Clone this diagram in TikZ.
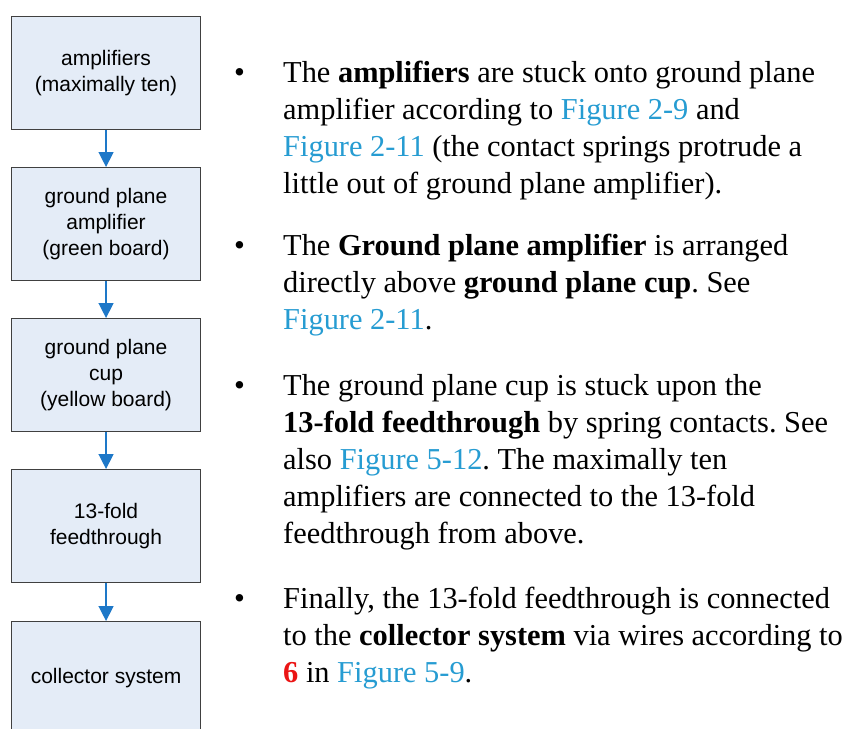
\documentclass[tikz,border=0pt]{standalone}
\usepackage{fontspec}
\setmainfont{Liberation Serif}
\newfontfamily\boxfont{Liberation Sans}
\usetikzlibrary{arrows.meta}
\definecolor{boxfill}{RGB}{228,236,247}
\definecolor{boxline}{RGB}{64,64,64}
\definecolor{flowblue}{RGB}{30,120,200}
\definecolor{linkblue}{RGB}{38,156,210}
\definecolor{numred}{RGB}{235,20,20}
\newcommand{\lnk}[1]{\textcolor{linkblue}{#1}}
\tikzset{
  stepbox/.style={draw=boxline, fill=boxfill, line width=1.1pt,
    minimum width=189pt, minimum height=113pt, inner sep=0pt,
    align=center, anchor=north west,
    font=\boxfont\fontsize{21pt}{26pt}\selectfont},
  flow/.style={draw=flowblue, line width=1.4pt,
    -{Triangle[length=15pt,width=15pt]}},
  bulletmark/.style={anchor=base west, inner sep=0pt,
    font=\fontsize{31pt}{37pt}\selectfont},
  para/.style={anchor=base west, inner sep=0pt,
    font=\fontsize{30.4pt}{37pt}\selectfont}
}
\newcommand{\paratext}[1]{\parbox[t]{600pt}{\raggedright\frenchspacing #1}}
\begin{document}
\begin{tikzpicture}[x=1pt,y=-1pt]
\clip (0,0) rectangle (847,729);
\fill[white] (0,0) rectangle (847,729);

% process chain on the left
\node[stepbox] (amp) at (11,16) {amplifiers\\(maximally ten)};
\node[stepbox] (gpa) at (11,167) {ground plane\\amplifier\\(green board)};
\node[stepbox] (gpc) at (11,318) {ground plane\\cup\\(yellow board)};
\node[stepbox] (ft) at (11,469) {13-fold\\feedthrough};
\node[stepbox] (col) at (11,621) {collector system};

\draw[flow] (amp.south) -- (gpa.north);
\draw[flow] (gpa.south) -- (gpc.north);
\draw[flow] (gpc.south) -- (ft.north);
\draw[flow] (ft.south) -- (col.north);

% description on the right
\node[bulletmark] (b1) at (234,82) {•};
\node[para] (p1) at (283,82) {\paratext{The \textbf{amplifiers} are stuck onto ground plane\\
amplifier according to \lnk{Figure 2-9} and\\
\lnk{Figure 2-11} (the contact springs protrude a\\
little out of ground plane amplifier).}};

\node[bulletmark] (b2) at (234,255) {•};
\node[para] (p2) at (283,255) {\paratext{The \textbf{Ground plane amplifier} is arranged\\
directly above \textbf{ground plane cup}. See\\
\lnk{Figure 2-11}.}};

\node[bulletmark] (b3) at (234,395) {•};
\node[para] (p3) at (283,395) {\paratext{The ground plane cup is stuck upon the\\
\textbf{13-fold feedthrough} by spring contacts. See\\
also \lnk{Figure 5-12}. The maximally ten\\
amplifiers are connected to the 13-fold\\
feedthrough from above.}};

\node[bulletmark] (b4) at (234,608) {•};
\node[para] (p4) at (283,608) {\paratext{Finally, the 13-fold feedthrough is connected\\
to the \textbf{collector system} via wires according to\\
\textcolor{numred}{\textbf{6}} in \lnk{Figure 5-9}.}};
\end{tikzpicture}
\end{document}
